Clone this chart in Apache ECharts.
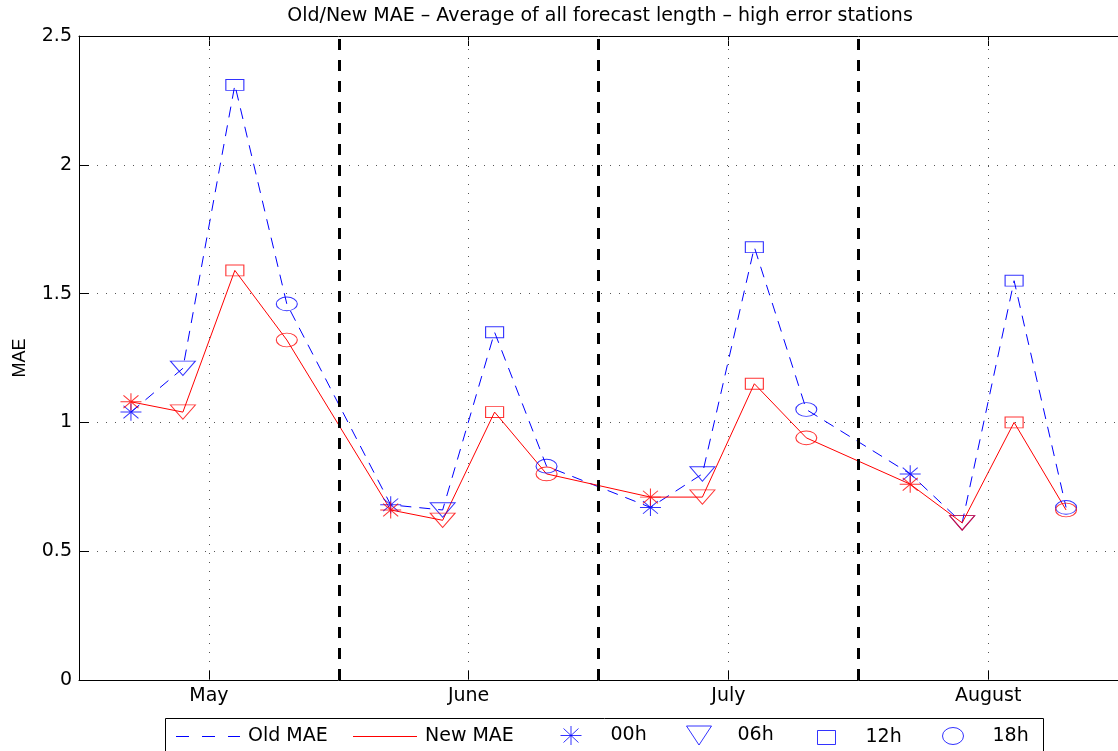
<!DOCTYPE html>
<html><head><meta charset="utf-8">
<script src="https://cdn.jsdelivr.net/npm/echarts@6/dist/echarts.min.js"></script>
<style>html,body{margin:0;padding:0;background:#fff}#c{width:1118px;height:751px}</style>
</head><body><div id="c"></div>
<script>
// ---- data ----
const months = ['May', 'June', 'July', 'August'];
const hours = ['00h', '06h', '12h', '18h'];
const oldMAE = [1.04, 1.21, 2.31, 1.46, 0.68, 0.66, 1.35, 0.83, 0.67, 0.80, 1.68, 1.05, 0.80, 0.61, 1.55, 0.67];
const newMAE = [1.08, 1.04, 1.59, 1.32, 0.66, 0.62, 1.04, 0.80, 0.71, 0.71, 1.15, 0.94, 0.76, 0.61, 1.00, 0.66];
const yTicks = [0, 0.5, 1, 1.5, 2, 2.5];
const titleText = 'Old/New MAE \u2013 Average of all forecast length \u2013 high error stations';

// ---- layout / style ----
const HOUR_OFFSET = [-0.3, -0.1, 0.1, 0.3];
const xOf = i => Math.floor(i / 4) + 0.5 + HOUR_OFFSET[i % 4];
const FONT = 'DejaVu Sans';
const BLUE = '#0000ff', RED = '#ff0000';
const NONE = 'rgba(0,0,0,0)';
const SYM = {
  '00h': {symbol: 'path://M0,9.5L21,9.5M10.5,0L10.5,19M3,2.5L18,16.5M3,16.5L18,2.5', size: [21, 19]},
  '06h': {symbol: 'path://M0,0L25,0L12.5,19Z', size: [25, 19]},
  '12h': {symbol: 'path://M0,0L18,0L18,14L0,14Z', size: [18, 14]},
  '18h': {symbol: 'path://M0,8.5A10.5,8.5,0,1,0,21,8.5A10.5,8.5,0,1,0,0,8.5Z', size: [21, 17]}
};
const LEGEND_LINE_ICON = {
  'Old MAE': 'path://M0,0h13v1h-13zM26,0h13v1h-13zM52,0h12v1h-12z',
  'New MAE': 'path://M0,0h64v1h-64z'
};
const monthCenters = months.map((m, i) => i + 0.5);
const boundaries = months.slice(1).map((m, i) => i + 1);

const lineData = arr => arr.map((v, i) => [xOf(i), v]);
const hourData = (arr, h) => arr.map((v, i) => [xOf(i), v]).filter((d, i) => i % 4 === h);

const series = [
  {
    name: 'Old MAE', type: 'line', data: lineData(oldMAE), symbol: 'none',
    lineStyle: {color: BLUE, width: 1, type: [11, 8]}, itemStyle: {color: BLUE}, z: 2,
    markLine: {
      silent: true, symbol: ['none', 'none'], label: {show: false}, animation: false,
      data: monthCenters.map(x => ({xAxis: x, lineStyle: {color: '#555', width: 1, type: [1, 8]}}))
        .concat(boundaries.map(x => ({xAxis: x, lineStyle: {color: '#000', width: 3, type: [11, 10]}})))
    }
  },
  {
    name: 'New MAE', type: 'line', data: lineData(newMAE), symbol: 'none',
    lineStyle: {color: RED, width: 1, type: 'solid'}, itemStyle: {color: RED}, z: 2
  }
];
hours.forEach((h, hi) => {
  [[oldMAE, BLUE], [newMAE, RED]].forEach(([arr, col]) => {
    series.push({
      name: h, type: 'scatter', data: hourData(arr, hi),
      symbol: SYM[h].symbol, symbolSize: SYM[h].size, symbolKeepAspect: true,
      itemStyle: {color: NONE, borderColor: col, borderWidth: 1}, z: 3
    });
  });
});

const LEG_Y = 735;
const legends = [
  {name: 'Old MAE', left: 176, w: 64, h: 1, top: LEG_Y - 8, pad: 3, col: BLUE},
  {name: 'New MAE', left: 353, w: 64, h: 1, top: LEG_Y - 8, pad: 3, col: RED},
  {name: '00h', left: 560, w: 21, h: 19, pad: 24},
  {name: '06h', left: 686, w: 25, h: 19, pad: 21},
  {name: '12h', left: 817, w: 18, h: 14, pad: 25},
  {name: '18h', left: 942, w: 21, h: 17, pad: 24}
].map(l => ({
  orient: 'horizontal', padding: 0, itemGap: 0, selectedMode: false,
  data: [l.col ? {name: l.name, icon: LEGEND_LINE_ICON[l.name]} : l.name],
  left: l.left, top: l.top !== undefined ? l.top : LEG_Y - l.h / 2, itemWidth: l.w, itemHeight: l.h,
  itemStyle: l.col ? {color: l.col, borderWidth: 0} : {borderWidth: 1},
  lineStyle: {width: 1},
  textStyle: {fontFamily: FONT, fontSize: 19, color: '#000', padding: [0, 0, 0, l.pad]}
}));

const option = {
  animation: false,
  backgroundColor: '#fff',
  title: {
    text: titleText, left: 600, top: 7, padding: 0, textAlign: 'center',
    textStyle: {fontFamily: FONT, fontSize: 19, fontWeight: 'normal', color: '#000'}
  },
  grid: {left: 79, top: 36, width: 1042, height: 644, containLabel: false},
  xAxis: [
    {
      type: 'value', min: 0, max: 4, interval: 0.5, position: 'bottom',
      axisLine: {show: true, lineStyle: {color: '#000', width: 1}},
      axisTick: {show: true, inside: true, length: 10, customValues: monthCenters, lineStyle: {color: '#000'}},
      axisLabel: {
        show: true, customValues: monthCenters, margin: 7, color: '#000', fontFamily: FONT, fontSize: 19,
        formatter: v => months[Math.round(v - 0.5)] || ''
      },
      splitLine: {show: false}
    },
    {
      type: 'value', min: 0, max: 4, interval: 0.5, position: 'top',
      axisLine: {show: true, lineStyle: {color: '#000', width: 1}},
      axisTick: {show: true, inside: true, length: 10, customValues: monthCenters, lineStyle: {color: '#000'}},
      axisLabel: {show: false}, splitLine: {show: false}
    }
  ],
  yAxis: {
    type: 'value', min: 0, max: 2.5, interval: 0.5,
    name: 'MAE', nameLocation: 'middle', nameGap: 50, nameRotate: 90,
    nameTextStyle: {fontFamily: 'Liberation Sans', fontSize: 18, color: '#000'},
    axisLine: {show: true, lineStyle: {color: '#000', width: 1}},
    axisTick: {show: true, inside: true, length: 10, lineStyle: {color: '#000'}},
    axisLabel: {margin: 7, color: '#000', fontFamily: FONT, fontSize: 19, formatter: v => String(v)},
    splitLine: {show: true, lineStyle: {color: '#555', width: 1, type: [1, 8]}}
  },
  legend: legends,
  graphic: [{
    type: 'rect', left: 165, top: 718, z: -1, silent: true,
    shape: {width: 878, height: 45},
    style: {fill: '#fff', stroke: '#000', lineWidth: 1}
  }],
  series: series
};

const chart = echarts.init(document.getElementById('c'), null, {renderer: 'canvas'});
chart.setOption(option);
</script>
</body></html>
